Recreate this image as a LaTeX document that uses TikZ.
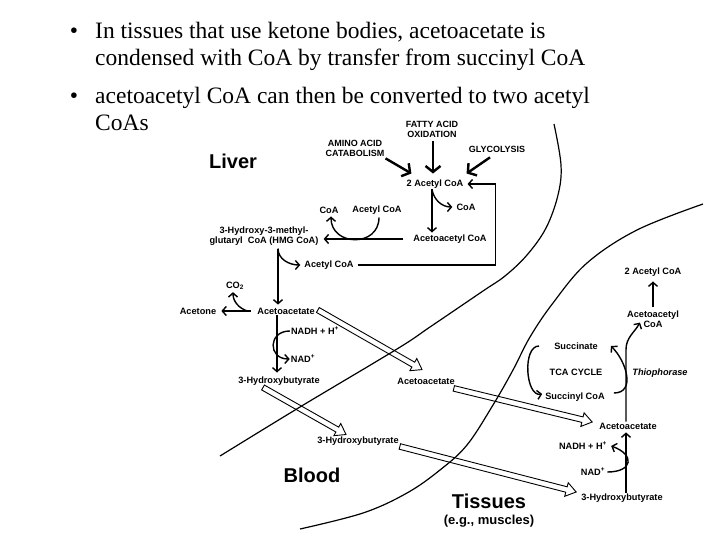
\documentclass[tikz,border=0pt]{standalone}
\usepackage{fontspec}
\setmainfont{Liberation Serif}
\setsansfont{Liberation Sans}
\usepackage{tikz}
\usetikzlibrary{arrows.meta,calc,positioning}

% open double-line arrow between two named coordinates
\newcommand{\fatarrow}[2]{%
  \filldraw[hollow] ($(#1)!2.8pt!90:(#2)$) -- ($(#2)!10pt!(#1)!2.8pt!90:(#2)$)
    -- ($(#2)!10pt!(#1)!7pt!90:(#2)$) -- (#2)
    -- ($(#2)!10pt!(#1)!7pt!-90:(#2)$) -- ($(#2)!10pt!(#1)!2.8pt!-90:(#2)$)
    -- ($(#1)!2.8pt!-90:(#2)$) -- cycle;}

\begin{document}
\begin{tikzpicture}[
    x=1pt, y=-1pt,
    lbl/.style={font=\sffamily\bfseries\fontsize{9.2}{10}\selectfont, inner sep=1pt, align=center},
    source/.style={lbl, font=\sffamily\bfseries\fontsize{9}{10}\selectfont},
    region/.style={font=\sffamily\bfseries\fontsize{20}{22}\selectfont, inner sep=0pt},
    bullet/.style={font=\fontsize{23.5}{27}\selectfont, anchor=base west, inner sep=0pt},
    arrow/.style={-{Straight Barb[length=4pt,width=9pt]}, line width=1.4pt},
    bigarrow/.style={-{Straight Barb[length=6pt,width=15pt]}, line width=2.4pt},
    hollow/.style={draw=black, fill=white, line width=0.9pt},
    boundary/.style={line width=1.2pt}
]
\useasboundingbox (0,0) rectangle (720,540);

% Bullet text
\node[bullet, anchor=base] (d1) at (74,39) {\textbullet};
\node[bullet] (l1) at (95,39) {In tissues that use ketone bodies, acetoacetate is};
\node[bullet] (l2) at (95,66) {condensed with CoA by transfer from succinyl CoA};
\node[bullet, anchor=base] (d2) at (74,104) {\textbullet};
\node[bullet] (l3) at (95,104) {acetoacetyl CoA can then be converted to two acetyl};
\node[bullet] (l4) at (95,131) {CoAs};

% Regions
\node[region] (liver) at (233,161) {Liver};
\node[region] (blood) at (312,475) {Blood};
\node[region] (tissues) at (489,501) {Tissues};
\node[font=\sffamily\bfseries\fontsize{13}{14}\selectfont, inner sep=0pt] (muscles) at (489,521) {(e.g., muscles)};

% Liver nodes
\node[source] (fa) at (432,129) {FATTY ACID\\OXIDATION};
\node[source] (aa) at (355,148) {AMINO ACID\\CATABOLISM};
\node[source] (gl) at (497,149) {GLYCOLYSIS};
\node[lbl] (ac2) at (435,184) {2 Acetyl CoA};
\node[lbl] (coa1) at (466,207) {CoA};
\node[lbl] (aacoa) at (450,239) {Acetoacetyl CoA};
\node[lbl] (hmg) at (264,236) {3-Hydroxy-3-methyl-\\glutaryl~~CoA (HMG CoA)};
\node[lbl] (coa2) at (329,210) {CoA};
\node[lbl] (acoa1) at (377,210) {Acetyl CoA};
\node[lbl] (acoa2) at (329,265) {Acetyl CoA};
\node[lbl] (laa) at (286,311) {Acetoacetate};
\node[lbl] (acetone) at (198,311) {Acetone};
\node[lbl] (co2) at (235,286) {CO\textsubscript{2}};
\node[lbl] (nadh1) at (315,331) {NADH + H\textsuperscript{+}};
\node[lbl] (nad1) at (303,359) {NAD\textsuperscript{+}};
\node[lbl] (lhb) at (279,381) {3-Hydroxybutyrate};

% Blood nodes
\node[lbl] (baa) at (426,381) {Acetoacetate};
\node[lbl] (bhb) at (358,441) {3-Hydroxybutyrate};

% Tissue nodes
\node[lbl] (tac2) at (653,272) {2 Acetyl CoA};
\node[lbl] (taacoa) at (653,319) {Acetoacetyl\\CoA};
\node[lbl] (succ) at (576,346) {Succinate};
\node[lbl] (tca) at (576,372) {TCA CYCLE};
\node[lbl] (succoa) at (575,397) {Succinyl CoA};
\node[lbl] (thio) at (660,373) {\itshape Thiophorase};
\node[lbl] (taa) at (628,426) {Acetoacetate};
\node[lbl] (nadh2) at (583,446) {NADH + H\textsuperscript{+}};
\node[lbl] (nad2) at (593,472) {NAD\textsuperscript{+}};
\node[lbl] (thb) at (622,498) {3-Hydroxybutyrate};

% Liver arrows
\draw[bigarrow] ([shift={(0,1)}]aa.south east) -- ([shift={(6,-5)}]ac2.north west);
\draw[bigarrow] ([shift={(1,3)}]fa.south) -- ([shift={(-2,-5)}]ac2.north);
\draw[bigarrow] ([shift={(-7,4)}]gl.south) -- ([shift={(2,-5)}]ac2.north east);
\draw[arrow] ([xshift=-3]ac2.south) -- ([shift={(-3,-1)}]ac2.south |- aacoa.north);
\draw[arrow] ([xshift=-3]ac2.south) to[out=-80,in=180] ([xshift=-3]coa1.west);
\draw[arrow] ([xshift=-9]aacoa.west) -- ([xshift=4]aacoa.west -| hmg.east);
\draw[arrow] ([shift={(2,2)}]acoa1.south) to[out=-90,in=-90,looseness=1.6] ([shift={(2,2)}]coa2.south);
\draw[arrow] ([shift={(14,2)}]hmg.south) to[out=-90,in=180] ([xshift=-3]acoa2.west);
\draw[arrow] ([shift={(14,2)}]hmg.south) -- ([shift={(14,-2)}]hmg.south |- laa.north);
\draw[arrow] ([xshift=3]acoa2.east) -| ([xshift=31]ac2.east) -- ([xshift=3]ac2.east);
\draw[arrow] ([xshift=-5]laa.west) -- ([xshift=4]acetone.east);
\draw[arrow] ([xshift=-9]laa.west) to[out=160,in=-90] ([shift={(-2,1)}]co2.south);
\draw[arrow] ([xshift=-9]laa.south) -- ([shift={(-9,-3)}]laa.south |- lhb.north);
\draw[arrow] (nadh1.west) to[out=180,in=180,looseness=2] (nad1.west);

% Tissue arrows
\draw[arrow] ([xshift=4]thb.north) -- ([shift={(4,2)}]thb.north |- taa.south);
\draw[arrow] ([xshift=1]nad2.east) to[out=0,in=-20,looseness=2.5] ([xshift=3]nadh2.east);
\draw[arrow] ([xshift=-2]taa.north) -- ++(0,-72) to[out=90,in=-120] ([shift={(-13,-6)}]taacoa.south);
\draw[arrow] ([shift={(0,-2)}]taacoa.north) -- ([shift={(0,4)}]tac2.south);
\draw[arrow] ([shift={(8,-4)}]succoa.east) to[out=0,in=-45,looseness=1.2] ([xshift=12]succ.east);
\draw[arrow] ([xshift=-14]succ.west) to[out=180,in=190,looseness=0.9] ([shift={(-2,-3)}]succoa.west);

% Transport arrows
\coordinate (h1s) at ([shift={(2,-1)}]laa.east);
\coordinate (h1e) at ([shift={(-4,-7)}]baa.north);
\coordinate (h2s) at ([shift={(-16,1)}]lhb.south);
\coordinate (h2e) at ([shift={(-12,-1)}]bhb.north);
\coordinate (h3s) at ([shift={(-2,3)}]baa.south east);
\coordinate (h3e) at ([shift={(-6,-4)}]taa.west);
\coordinate (h4s) at (bhb.south east);
\coordinate (h4e) at ([shift={(-4,-6)}]thb.west);
\fatarrow{h1s}{h1e}
\fatarrow{h2s}{h2e}
\fatarrow{h3s}{h3e}
\fatarrow{h4s}{h4e}

% Boundaries
\draw[boundary] plot[smooth, tension=0.6] coordinates {(554,124) (561,165) (558,195) (546,228) (527,255) (505,276) (483,291) (430,327) (397,349) (300,407) (220,456)};
\draw[boundary] plot[smooth, tension=0.6] coordinates {(703,204) (637,230) (587,263) (553,303) (530,337) (513,370) (493,405) (467,445) (440,470) (407,493) (363,513) (300,529)};

\end{tikzpicture}
\end{document}
